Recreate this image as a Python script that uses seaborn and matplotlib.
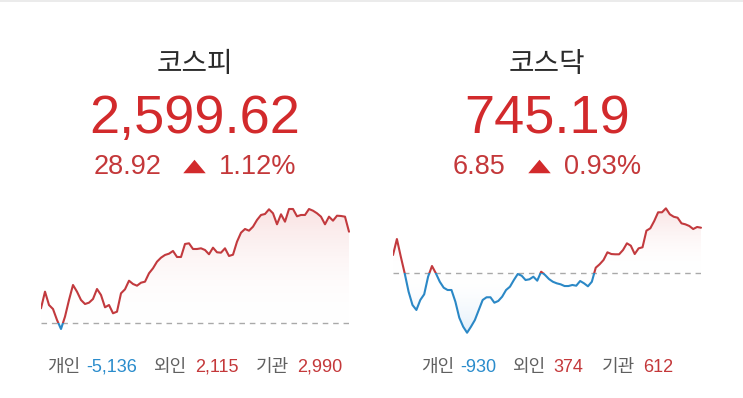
import numpy as np
import pandas as pd
import matplotlib
matplotlib.use("Agg")
import matplotlib.pyplot as plt
import seaborn as sns
from matplotlib.patches import PathPatch, Rectangle
from matplotlib.colors import LinearSegmentedColormap
from matplotlib.lines import Line2D
from matplotlib.path import Path

# ---------------- data ----------------
names = ["코스피", "코스닥"]
closes = ["2,599.62", "745.19"]
changes = ["28.92", "6.85"]
pcts = ["1.12%", "0.93%"]
prev_close = [2570.70, 738.34]

kospi_values = [
    2575.27, 2580.56, 2576.32, 2575.05, 2571.56, 2568.70, 2572.61, 2577.91,
    2582.68, 2580.56, 2577.91, 2576.64, 2577.06, 2578.23, 2581.41, 2579.50,
    2575.59, 2576.32, 2573.69, 2574.20, 2580.04, 2581.31, 2584.05, 2583.00,
    2582.46, 2583.41, 2583.73, 2586.40, 2587.99, 2590.09, 2591.36, 2592.22,
    2592.63, 2593.49, 2591.58, 2591.58, 2595.71, 2595.93, 2594.12, 2594.12,
    2594.34, 2593.80, 2592.44, 2594.54, 2593.07, 2592.95, 2594.34, 2591.90,
    2592.31, 2596.44, 2599.30, 2600.48, 2599.94, 2601.21, 2603.34, 2604.93,
    2605.24, 2606.74, 2605.47, 2601.97, 2605.15, 2602.80, 2606.83, 2606.83,
    2604.51, 2604.93, 2604.93, 2606.83, 2606.29, 2605.47, 2604.39, 2601.97,
    2604.39, 2603.12, 2604.70, 2604.61, 2604.39, 2599.62,
]
kosdaq_values = [
    741.06, 743.48, 740.81, 738.29, 735.51, 733.50, 732.75, 734.26,
    735.12, 737.78, 739.40, 738.29, 737.02, 736.12, 735.77, 735.77,
    734.00, 731.58, 730.22, 729.31, 730.22, 731.23, 732.75, 734.26,
    734.67, 734.67, 733.85, 734.11, 734.76, 735.77, 736.27, 737.28,
    738.19, 737.93, 737.28, 737.39, 737.78, 737.18, 738.54, 738.04,
    737.43, 737.02, 736.78, 736.63, 736.37, 736.37, 736.53, 736.42,
    737.13, 736.78, 736.33, 737.02, 739.14, 739.66, 740.31, 741.47,
    741.21, 741.17, 741.17, 741.82, 742.83, 742.47, 741.21, 742.07,
    742.23, 744.74, 745.10, 746.20, 747.52, 747.52, 748.12, 747.22,
    746.85, 746.70, 745.85, 745.70, 745.45, 744.99, 745.30, 745.19,
]
series = [kospi_values, kosdaq_values]

investor_labels = ["개인", "외인", "기관"]
kospi_flows = ["-5,136", "2,115", "2,990"]
kosdaq_flows = ["-930", "374", "612"]
flows = [kospi_flows, kosdaq_flows]

# ---------------- style ----------------
RED_LINE = "#c23a3e"
BLUE_LINE = "#2b88c6"
RED_BIG = "#d22a2c"
RED_TXT = "#c4383a"
BLUE_TXT = "#2a8ccc"
GRAY_TXT = "#606060"
TITLE_C = "#2b2b2b"

sns.set_theme(style="white")
plt.rcParams["font.family"] = ["Liberation Sans", "Noto Sans CJK KR", "DejaVu Sans"]

W, H = 743, 398
fig = plt.figure(figsize=(W / 100, H / 100), dpi=100)
fig.patch.set_facecolor("white")

def fx(px):
    return px / W

def fy(py):
    return (H - py) / H

# top light border
fig.add_artist(Rectangle((0, fy(2)), 1, 2 / H, transform=fig.transFigure,
                         color="#ebebeb", lw=0))

panels = [
    dict(left=41, right=349, ylim=(2565.20, 2609.69)),
    dict(left=393, right=701, ylim=(728.21, 749.38)),
]

red_cmap = LinearSegmentedColormap.from_list(
    "r", [(1, 1, 1, 0), (0.96, 0.80, 0.80, 0.55)])
blue_cmap = LinearSegmentedColormap.from_list(
    "b", [(1, 1, 1, 0), (0.82, 0.90, 0.97, 0.65)])

for i, p in enumerate(panels):
    vals = np.array(series[i])
    base = prev_close[i]
    df = pd.DataFrame({"t": np.arange(len(vals)), "v": vals})
    ax = fig.add_axes([fx(p["left"]), fy(340), fx(p["right"] - p["left"]), 140 / H])
    ax.set_xlim(0, len(vals) - 1)
    ax.set_ylim(*p["ylim"])
    ax.axis("off")
    ax.patch.set_alpha(0)

    # gradient fills
    up = ax.fill_between(df["t"], np.maximum(df["v"], base), base, color="none", lw=0)
    dn = ax.fill_between(df["t"], np.minimum(df["v"], base), base, color="none", lw=0)
    grad = np.linspace(0, 1, 256).reshape(-1, 1)
    if vals.max() > base:
        im = ax.imshow(grad, cmap=red_cmap, aspect="auto", origin="lower",
                       extent=[0, len(vals) - 1, base, vals.max()], zorder=1)
        im.set_clip_path(PathPatch(up.get_paths()[0], transform=ax.transData))
    if vals.min() < base:
        im2 = ax.imshow(grad[::-1], cmap=blue_cmap, aspect="auto", origin="lower",
                        extent=[0, len(vals) - 1, vals.min(), base], zorder=1)
        im2.set_clip_path(PathPatch(dn.get_paths()[0], transform=ax.transData))
    ax.set_xlim(0, len(vals) - 1)
    ax.set_ylim(*p["ylim"])

    # baseline
    ax.axhline(base, color="#a9a9a9", lw=1.0, ls=(0, (4, 3.5)), zorder=2)

    # line: red above baseline, blue below
    sns.lineplot(data=df, x="t", y="v", ax=ax, color=RED_LINE, lw=1.5, zorder=3)
    l_red = ax.lines[-1]
    l_red.set_clip_path(Rectangle((0, base), len(vals), 1e5, transform=ax.transData))
    sns.lineplot(data=df, x="t", y="v", ax=ax, color=BLUE_LINE, lw=1.5, zorder=3)
    l_blue = ax.lines[-1]
    l_blue.set_clip_path(Rectangle((0, base - 1e5), len(vals), 1e5, transform=ax.transData))
    ax.set_xlabel("")
    ax.set_ylabel("")

    cx = (p["left"] + p["right"]) / 2
    fig.text(fx(cx), fy(72), names[i], ha="center", va="baseline",
             fontsize=20, color=TITLE_C, family=["Noto Sans CJK KR"])
    fig.text(fx(cx), fy(133), closes[i], ha="center", va="baseline",
             fontsize=39, color=RED_BIG)

fig.canvas.draw()
renderer = fig.canvas.get_renderer()

def place_row(pieces, gaps, cx, base_y):
    texts = []
    widths = []
    for txt, col, fs, kind in pieces:
        if kind == "tri":
            widths.append(22.5)
            texts.append(None)
        else:
            t = fig.text(0, fy(base_y), txt, ha="left", va="baseline",
                         fontsize=fs, color=col)
            widths.append(t.get_window_extent(renderer).width)
            texts.append(t)
    total = sum(widths) + sum(gaps)
    x = cx - total / 2
    for k, (pc, t) in enumerate(zip(pieces, texts)):
        if pc[3] == "tri":
            tri = Path([(-1, -0.6), (1, -0.6), (0, 0.6), (-1, -0.6)],
                       [Path.MOVETO, Path.LINETO, Path.LINETO, Path.CLOSEPOLY])
            fig.add_artist(Line2D([fx(x + widths[k] / 2)], [fy(base_y - 8.5)],
                                  transform=fig.transFigure, marker=tri,
                                  markersize=22.5 * 0.72, color=pc[1], lw=0,
                                  markeredgewidth=0))
        else:
            t.set_x(fx(x))
        x += widths[k]
        if k < len(gaps):
            x += gaps[k]

for i, p in enumerate(panels):
    cx = (p["left"] + p["right"]) / 2
    place_row([(changes[i], RED_TXT, 19.5, "t"), ("", RED_BIG, 0, "tri"),
               (pcts[i], RED_TXT, 19.5, "t")], [21.5, 14], cx, 174)
    row = []
    for lab, val in zip(investor_labels, flows[i]):
        row.append((lab, GRAY_TXT, 13, "t"))
        row.append((val, BLUE_TXT if val.startswith("-") else RED_TXT, 13, "t"))
    place_row(row, [6, 16, 8, 18, 8], cx, 372)

fig.savefig("out.png", dpi=100, facecolor="white")
